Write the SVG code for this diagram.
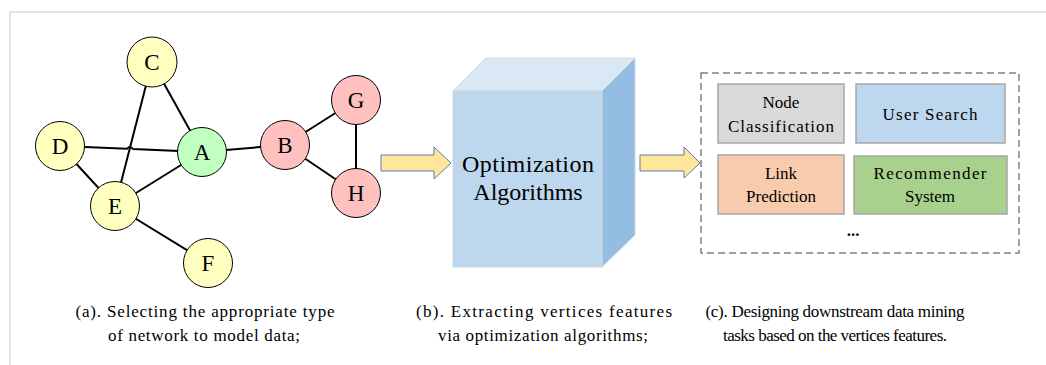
<svg xmlns="http://www.w3.org/2000/svg" width="1046" height="365" viewBox="0 0 1046 365">
<style>
.frame{fill:none;stroke:#dcdcdc;stroke-width:1.5}
.edge{stroke:#000;stroke-width:2;fill:none}
.node circle{stroke:#000;stroke-width:1}
.y{fill:#ffffc0}.g{fill:#c0ffc0}.p{fill:#ffc0c0}
text{font-family:"Liberation Serif","Times New Roman",serif;fill:#000;text-anchor:middle}
.lbl{font-size:23px}
.arrow{fill:#ffe699;stroke:#5b7bb5;stroke-width:1}
.box{stroke:#a6a6a6;stroke-width:1.5}
.bt{font-size:17px}
.cap{font-size:17px}
.big{font-size:24px}
</style>
<rect width="1046" height="365" fill="#fff"/>
<path class="frame" d="M10,365 V12 H1046"/>
<g id="connectors">
<line class="edge" x1="152" y1="62" x2="202" y2="152"/>
<line class="edge" x1="152" y1="62" x2="115" y2="206"/>
<path class="edge" d="M60,146 L127,148.8 Q130,145 133,149 L202,152"/>
<line class="edge" x1="60" y1="146" x2="115" y2="206"/>
<line class="edge" x1="115" y1="206" x2="202" y2="152"/>
<line class="edge" x1="115" y1="206" x2="208" y2="263"/>
<line class="edge" x1="202" y1="152" x2="285" y2="145"/>
<line class="edge" x1="285" y1="145" x2="356" y2="100"/>
<line class="edge" x1="285" y1="145" x2="356" y2="193"/>
<line class="edge" x1="356" y1="100" x2="356" y2="193"/>
<path id="arrow1" class="arrow" d="M381,155 H434 V147 L451,163 L434,179 V171 H381 Z"/>
<path id="arrow2" class="arrow" d="M640,155 H684 V147 L700,163 L684,178 V171 H640 Z"/>
</g>
<g id="node-C" class="node"><circle class="y" cx="152" cy="62" r="25"/><text class="lbl" x="152" y="70">C</text></g>
<g id="node-D" class="node"><circle class="y" cx="60" cy="146" r="24.5"/><text class="lbl" x="60" y="154">D</text></g>
<g id="node-A" class="node"><circle class="g" cx="202" cy="152" r="24.5"/><text class="lbl" x="202" y="160">A</text></g>
<g id="node-E" class="node"><circle class="y" cx="115" cy="206" r="24.5"/><text class="lbl" x="115" y="214">E</text></g>
<g id="node-F" class="node"><circle class="y" cx="208" cy="263" r="24.5"/><text class="lbl" x="208" y="271">F</text></g>
<g id="node-B" class="node"><circle class="p" cx="285" cy="145" r="24.5"/><text class="lbl" x="285" y="153">B</text></g>
<g id="node-G" class="node"><circle class="p" cx="356" cy="100" r="24.5"/><text class="lbl" x="356" y="108">G</text></g>
<g id="node-H" class="node"><circle class="p" cx="356" cy="193" r="24.5"/><text class="lbl" x="356" y="201">H</text></g>
<g id="cube">
<polygon points="453,91 486,58 635,58 602,91" fill="#dae7f5" stroke="#cfd6de" stroke-width="1"/>
<polygon points="602,91 635,58 635,235 602,267" fill="#93bde3" stroke="#cfd6de" stroke-width="1"/>
<rect x="453" y="91" width="149" height="176" fill="#bdd7ee" stroke="#cfd6de" stroke-width="1"/>
<text class="big" x="528" y="172" textLength="132">Optimization</text>
<text class="big" x="528" y="200">Algorithms</text>
</g>
<g id="tasks">
<rect x="701" y="73" width="318" height="180" fill="none" stroke="#808080" stroke-width="1.5" stroke-dasharray="7,4"/>
<g id="node-classification"><rect class="box" x="718" y="84" width="126" height="59" fill="#d9d9d9"/><text class="bt" x="781" y="108">Node</text><text class="bt" x="781" y="132" textLength="106">Classification</text></g>
<g id="user-search"><rect class="box" x="856" y="84" width="149" height="59" fill="#bdd7ee"/><text class="bt" x="930" y="120" textLength="95">User Search</text></g>
<g id="link-prediction"><rect class="box" x="718" y="155" width="126" height="59" fill="#f8cbad"/><text class="bt" x="781" y="179">Link</text><text class="bt" x="781" y="202">Prediction</text></g>
<g id="recommender"><rect class="box" x="854" y="156" width="153" height="58" fill="#a9d18e"/><text class="bt" x="930" y="179" textLength="113">Recommender</text><text class="bt" x="930" y="202">System</text></g>
<text class="bt" x="853" y="236" font-weight="bold">...</text>
</g>
<g id="captions">
<text class="cap" x="205" y="317" textLength="259">(a). Selecting the appropriate type</text>
<text class="cap" x="204" y="341" textLength="192">of network to model data;</text>
<text class="cap" x="544" y="317" textLength="256">(b). Extracting vertices features</text>
<text class="cap" x="543" y="341" textLength="210">via optimization algorithms;</text>
<text class="cap" x="835" y="317" textLength="259">(c). Designing downstream data mining</text>
<text class="cap" x="835" y="341" textLength="224">tasks based on the vertices features.</text>
</g>
</svg>
